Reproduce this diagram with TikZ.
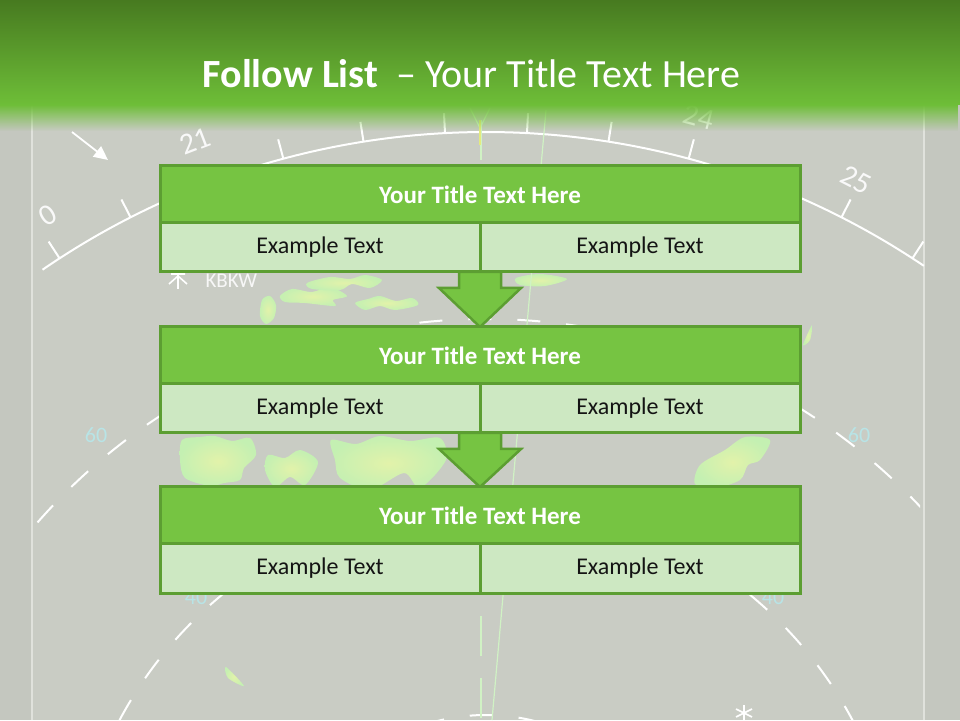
\documentclass[tikz,border=0pt]{standalone}
\usepackage{fontspec}
\setmainfont{Carlito}
\usetikzlibrary{calc,fadings,arrows.meta}
\pgfdeclarelayer{bg}
\pgfsetlayers{bg,main}

\definecolor{slidegrey}{RGB}{201,204,196}
\definecolor{stripgrey}{RGB}{196,199,191}
\definecolor{framegrey}{RGB}{224,226,220}
\definecolor{hdrtop}{RGB}{71,122,32}
\definecolor{hdrbot}{RGB}{110,190,56}
\definecolor{boxgreen}{RGB}{118,196,66}
\definecolor{boxedge}{RGB}{92,158,50}
\definecolor{cellgreen}{RGB}{205,232,194}
\definecolor{rangecyan}{RGB}{184,228,230}
\definecolor{weather}{RGB}{196,240,178}
\definecolor{weathercore}{RGB}{226,242,170}
\definecolor{sweepgreen}{RGB}{208,242,196}

\tikzfading[name=hdrfade, top color=transparent!0, bottom color=transparent!100]

\tikzset{
  titlebar/.style={draw=boxedge, fill=boxgreen, line width=3pt, outer sep=0pt,
    minimum width=640pt, minimum height=57pt, inner sep=0pt, text=white,
    font=\fontsize{25}{28}\selectfont\bfseries},
  cellbox/.style={draw=boxedge, fill=cellgreen, line width=3pt, outer sep=0pt,
    minimum width=320pt, minimum height=49pt, inner sep=0pt, text=black!92,
    font=\fontsize{24}{28}\selectfont},
  flowarrow/.style={draw=boxedge, fill=boxgreen, line width=2.5pt, line join=miter},
  ringdash/.style={white, line width=2pt, dash pattern=on 23pt off 26pt},
  bearing/.style={text=white!95!gray, inner sep=1pt, font=\fontsize{30}{32}\selectfont},
  rangelabel/.style={text=rangecyan, font=\fontsize{22}{24}\selectfont},
  sweep/.style={sweepgreen, line width=1.2pt},
  cloud/.style={inner color=weathercore, outer color=weather},
  slidetitle/.style={text=white, anchor=base, font=\fontsize{40}{44}\selectfont},
}

\begin{document}
\begin{tikzpicture}[x=1pt, y=1pt]
  \useasboundingbox (0,0) rectangle (960,720);
  \coordinate (ctr) at (486,-195);

  % Blocks
  \foreach \i/\y in {1/525.5, 2/364.5, 3/204.5} {
    \node[titlebar] (t\i) at (480,\y) {Your Title Text Here};
    \node[cellbox, anchor=north east] (l\i) at (t\i.south) {Example Text};
    \node[cellbox, anchor=north west] (r\i) at (t\i.south) {Example Text};
  }

  \begin{pgfonlayer}{bg}
    % Radar screen
    \fill[slidegrey] (0,0) rectangle (960,720);
    \fill[stripgrey] (0,0) rectangle (32,720);
    \fill[stripgrey] (925,0) rectangle (960,720);
    \draw[framegrey, line width=1.5pt] (32,0) -- (32,720);
    \draw[framegrey, line width=1.5pt] (924,0) -- (924,720);

    % Weather
    \foreach \blob in {
      {(262,420) (270,424) (276,415) (274,402) (266,396) (260,404)},
      {(280,424) (292,431) (312,428) (330,433) (347,424) (333,420) (335,414) (305,417) (285,418)},
      {(307,437) (330,443) (350,441) (365,445) (382,440) (370,432) (352,436) (340,430) (312,431)},
      {(355,417) (368,421) (380,424) (396,419) (412,422) (418,415) (395,410) (380,414) (365,410)},
      {(516,442) (540,446) (567,441) (545,434) (520,435)},
      {(182,280) (200,283) (215,284) (232,279) (250,282) (256,265) (244,252) (240,240) (224,237) (210,234) (185,242) (180,260)},
      {(268,265) (285,262) (300,270) (318,258) (305,235) (290,243) (275,233) (265,250)},
      {(331,280) (356,276) (380,284) (410,279) (440,282) (446,260) (420,232) (404,247) (370,230) (340,242) (335,260)},
      {(745,283) (770,280) (760,260) (748,255) (740,240) (715,232) (695,236) (700,255) (725,270)},
      {(226,53) (244,34) (228,42)},
      {(803,375) (812,395) (810,380)}} {
      \shade[cloud] plot[smooth cycle, tension=0.5] coordinates \blob;
    }

    % Range rings
    \begin{scope}
      \clip (36,0) rectangle (920,720);
      \draw[ringdash] ($(ctr)+(0:596)$) arc[start angle=0, end angle=180, radius=596];
      \draw[ringdash] ($(ctr)+(0:415)$) arc[start angle=0, end angle=180, radius=415];
      \draw[ringdash] ($(ctr)+(60:200)$) arc[start angle=60, end angle=120, radius=200];
    \end{scope}
    \node[rangelabel] (r60a) at (96,285) {60};
    \node[rangelabel] (r60b) at (859,285) {60};
    \node[rangelabel] (r40a) at (196,123) {40};
    \node[rangelabel] (r40b) at (773,123) {40};

    % Compass arc
    \draw[white, line width=2pt] ($(ctr)+(124.5:783)$) arc[start angle=124.5, end angle=56, radius=783];
    \foreach \a in {-33,-27,...,33} {
      \draw[white, line width=2pt] ($(ctr)+(90+\a:783)$) -- ($(ctr)+(90+\a:803)$);
    }
    \node[bearing, rotate=32] (b20) at (48,505) {0};
    \node[bearing, rotate=21] (b21) at (195,579) {21};
    \node[bearing, rotate=-15] (b24) at (699,603) {24};
    \node[bearing, rotate=-27] (b25) at (856,540) {25};

    % Sweep lines
    \draw[sweep, dash pattern=on 40pt off 22pt] (481,600) -- (481,0);
    \draw[sweep] (546,610) -- (492,0);
    \draw[sweep] (470,612) -- (480,592) -- (490,612);
    \draw[yellow!40!sweepgreen, line width=1.5pt] (480,600) -- (480,575);

    % Marks
    \draw[white, line width=1.8pt, -{Triangle[length=14pt, width=13pt]}] (72,588) -- (108,560);
    \draw[white, line width=1.6pt] (178,445) -- (178,431) (178,444) -- (169,436)
      (178,444) -- (187,436) (171,446) -- (185,446);
    \node[text=white!94!gray, anchor=west, font=\fontsize{21}{24}\selectfont] (kbkw) at (202,439) {KBKW};
    \draw[white, line width=1.6pt] (744,0) -- (744,15) (736,3) -- (752,11) (736,11) -- (752,3);

    % Header
    \shade[top color=hdrtop, bottom color=hdrbot] (0,720) rectangle (960,615);
    \fill[hdrbot, path fading=hdrfade] (0,615.5) rectangle (960,589);

    % Flow arrows
    \foreach \i/\j in {1/2, 2/3} {
      \draw[flowarrow] ($(l\i.south east)+(-21,0)$) -- ++(0,-16) -- ++(-20,0)
        -- (t\j.north) -- ($(l\i.south east)+(41,-16)$) -- ++(-20,0) -- ++(0,16) -- cycle;
    }
  \end{pgfonlayer}

  % Title
  \node[slidetitle] (title) at (471.5,632) {\textbf{Follow List}\ \ – Your Title Text Here};
\end{tikzpicture}
\end{document}
